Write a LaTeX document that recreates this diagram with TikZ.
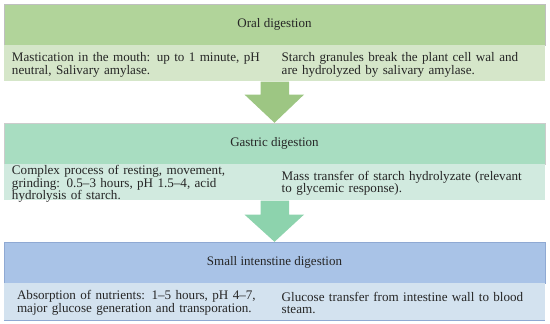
\documentclass[tikz,border=0pt]{standalone}
\usepackage{fontspec}
\setmainfont{Liberation Serif}
\usetikzlibrary{positioning,calc}

\definecolor{oralhead}{HTML}{B1D49A}
\definecolor{oralsub}{HTML}{D5E6C9}
\definecolor{oralarrow}{HTML}{9DC683}
\definecolor{gasthead}{HTML}{A8DDC1}
\definecolor{gastsub}{HTML}{D1EADF}
\definecolor{gastarrow}{HTML}{8DD3AD}
\definecolor{smallhead}{HTML}{A9C3E7}
\definecolor{smallsub}{HTML}{D3E2EF}
\definecolor{smallline}{HTML}{8FA9D3}

\hyphenpenalty=10000\relax

\tikzset{
    head/.style={minimum width=541pt, minimum height=41pt, inner sep=0pt,
        font=\fontsize{13}{14}\selectfont, text=black!85},
    band/.style={minimum width=541pt, minimum height=36pt, inner sep=0pt,
        anchor=north},
    celltext/.style={anchor=west, text width=252pt, align=left, inner sep=0pt,
        font=\fontsize{13.1}{12.4}\selectfont, text=black!85}
}

\begin{document}
\begin{tikzpicture}[x=1pt,y=1pt]
\useasboundingbox (0,0) rectangle (550,-324);

    % Oral digestion
\node[head, fill=oralhead, draw=black!25] (oral) at (274.5,-24.5) {Oral digestion};
\node[band, fill=oralsub] (oralrow) at (oral.south) {};
\node[celltext] (oralL) at ($(oralrow.west)+(8,-1.5)$)
    {Mastication in the mouth: up to 1 minute, pH neutral, Salivary amylase.};
\node[celltext] (oralR) at ($(oralrow.center)+(7,-1.5)$)
    {Starch granules break the plant cell wal and are hydrolyzed by salivary amylase.};

    % Gastric digestion
\node[head, fill=gasthead, draw=black!20] (gastric) at (274.5,-143.5) {Gastric digestion};
\node[band, fill=gastsub] (gastrow) at (gastric.south) {};
\node[celltext, anchor=north west, text width=225pt] (gastL) at ($(gastrow.north west)+(8,-1)$)
    {Complex process of resting, movement, grinding: 0.5--3 hours, pH 1.5--4, acid hydrolysis of starch.};
\node[celltext] (gastR) at ($(gastrow.center)+(7,-1)$)
    {Mass transfer of starch hydrolyzate (relevant to glycemic response).};

    % Small intenstine digestion
\node[head, fill=smallhead, draw=smallline] (small) at (274.5,-262.5) {Small intenstine digestion};
\node[band, fill=smallsub, minimum height=37pt] (smallrow) at (small.south) {};
\draw[smallline, line width=0.8pt] (smallrow.south west) -- (smallrow.south east);
\node[celltext] (smallL) at ($(smallrow.west)+(13,-1)$)
    {Absorption of nutrients: 1--5 hours, pH 4--7, major glucose generation and transporation.};
\node[celltext] (smallR) at ($(smallrow.center)+(7,-1)$)
    {Glucose transfer from intestine wall to blood steam.};

    % arrows
\fill[oralarrow] ($(oralrow.south)+(-14,0)$) -- ++(0,-13) -- ++(-16,0)
    -- (gastric.north) -- ($(oralrow.south)+(29.5,-13)$) -- ++(-15,0)
    -- ($(oralrow.south)+(14.5,0)$) -- cycle;
\fill[gastarrow] ($(gastrow.south)+(-14,0)$) -- ++(0,-14) -- ++(-16,0)
    -- (small.north) -- ($(gastrow.south)+(29.5,-14)$) -- ++(-15,0)
    -- ($(gastrow.south)+(14.5,0)$) -- cycle;

\end{tikzpicture}
\end{document}
